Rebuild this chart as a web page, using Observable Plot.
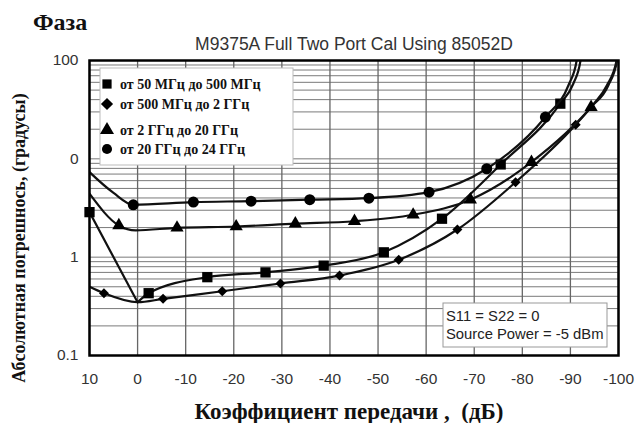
<!DOCTYPE html>
<html><head><meta charset="utf-8">
<script src="https://cdn.jsdelivr.net/npm/d3@7"></script>
<script src="https://cdn.jsdelivr.net/npm/@observablehq/plot@0.6"></script>
<style>body{margin:0;background:#fff} #chart{width:638px;height:423px}</style>
</head><body><div id="chart"></div>
<script>
// ---- Axis ticks / labels ----
const xTicks = [10, 0, -10, -20, -30, -40, -50, -60, -70, -80, -90, -100];
const yTickValues = [0.1, 1, 10, 100];
const yTickLabels = ["0.1", "1", "0", "100"];
const titleText = "M9375A Full Two Port Cal Using 85052D";
const topLabel = "Фаза";
const xLabel = "Коэффициент передачи ,  (дБ)";
const yLabel = "Абсолютная погрешнось, (градусы)";
const legendLabels = ["от 50 МГц до 500 МГц", "от 500 МГц до 2 ГГц", "от 2 ГГц до 20 ГГц", "от 20 ГГц до 24 ГГц"];
const noteLines = ["S11 = S22 = 0", "Source Power = -5 dBm"];

// ---- Series: 50 MHz – 500 MHz (square) ----
const sqLineX = [10, 0, -2.3, -14.5, -26.6, -38.7, -51.2, -63.3, -75.5, -87.9, -90.6, -92.1, -92.4];
const sqLineY = [2.87, 0.348, 0.43, 0.626, 0.70, 0.82, 1.12, 2.46, 8.77, 36.4, 58, 100, 150];
const sqMarkX = [10, -2.3, -14.5, -26.6, -38.7, -51.2, -63.3, -75.5, -87.9];
const sqMarkY = [2.87, 0.43, 0.626, 0.70, 0.82, 1.12, 2.46, 8.77, 36.4];

// ---- Series: 500 MHz – 2 GHz (diamond) ----
const diLineX = [10, 7, 0, -5.3, -17.6, -29.7, -42, -54.3, -66.5, -78.6, -91.1, -94.8, -97.6, -99.6, -99.9];
const diLineY = [0.50, 0.43, 0.348, 0.377, 0.45, 0.54, 0.65, 0.94, 1.91, 5.79, 22.2, 36, 56, 100, 150];
const diMarkX = [7, -5.3, -17.6, -29.7, -42, -54.3, -66.5, -78.6, -91.1];
const diMarkY = [0.43, 0.377, 0.45, 0.54, 0.65, 0.94, 1.91, 5.79, 22.2];

// ---- Series: 2 GHz – 20 GHz (triangle) ----
const trLineX = [10, 3.9, 0.4, -8.2, -20.5, -32.8, -45.1, -57.3, -69.2, -81.9, -94.3, -97.9, -99.7, -100.2];
const trLineY = [4.42, 2.10, 1.87, 1.99, 2.05, 2.19, 2.32, 2.7, 3.84, 9.25, 33.6, 56, 100, 150];
const trMarkX = [3.9, -8.2, -20.5, -32.8, -45.1, -57.3, -69.2, -81.9, -94.3];
const trMarkY = [2.10, 1.99, 2.05, 2.19, 2.32, 2.7, 3.84, 9.25, 33.6];

// ---- Series: 20 GHz – 24 GHz (circle) ----
const ciLineX = [10, 5, 0.9, -11.6, -23.6, -35.8, -48.1, -60.6, -72.6, -84.8, -89.6, -91.3, -91.6];
const ciLineY = [7.32, 4.5, 3.41, 3.63, 3.71, 3.84, 3.98, 4.58, 7.93, 26.6, 56, 100, 150];
const ciMarkX = [0.9, -11.6, -23.6, -35.8, -48.1, -60.6, -72.6, -84.8];
const ciMarkY = [3.41, 3.63, 3.71, 3.84, 3.98, 4.58, 7.93, 26.6];

const pts = (xs, ys) => xs.map((x, i) => ({x, y: ys[i]}));

// log grid lines
const yGrid = [];
[0.1, 1, 10].forEach(dec => { for (let k = 1; k <= 9; k++) yGrid.push(+(dec * k).toPrecision(3)); });
yGrid.push(100);

const series = [
  {line: pts(sqLineX, sqLineY), marks: pts(sqMarkX, sqMarkY), symbol: "square", r: 5.8, splitFirst: true},
  {line: pts(diLineX, diLineY), marks: pts(diMarkX, diMarkY), symbol: "diamond2", r: 4.5},
  {line: pts(trLineX, trLineY), marks: pts(trMarkX, trMarkY), symbol: "triangle", r: 4.9},
  {line: pts(ciLineX, ciLineY), marks: pts(ciMarkX, ciMarkY), symbol: "circle", r: 5.5}
];

const lineMarks = [];
series.forEach(s => {
  if (s.splitFirst) {
    lineMarks.push(Plot.line(s.line.slice(0, 2), {x: "x", y: "y", stroke: "#111", strokeWidth: 2.2, clip: true}));
    lineMarks.push(Plot.line(s.line.slice(1), {x: "x", y: "y", curve: "monotone-x", stroke: "#111", strokeWidth: 2.2, clip: true}));
  } else {
    lineMarks.push(Plot.line(s.line, {x: "x", y: "y", curve: "monotone-x", stroke: "#111", strokeWidth: 2.2, clip: true}));
  }
  lineMarks.push(Plot.dot(s.marks, {x: "x", y: "y", symbol: () => s.symbol, r: s.r, fill: "#000", stroke: "none"}));
});

const yLabelMap = new Map(yTickValues.map((v, i) => [v, yTickLabels[i]]));

const chart = Plot.plot({
  width: 638, height: 423,
  marginLeft: 89, marginRight: 20, marginTop: 60, marginBottom: 68,
  style: {fontFamily: "'Liberation Sans', Arial, sans-serif", background: "white", color: "#333"},
  x: {domain: [10, -100]},
  y: {type: "log", domain: [0.1, 100]},
  symbol: {type: "identity"},
  marks: [
    Plot.ruleY(yGrid, {stroke: "#7a7a7a", strokeWidth: 1}),
    Plot.ruleX(xTicks, {stroke: "#666", strokeWidth: 1.3}),
    Plot.axisX({ticks: xTicks, tickSize: 0, tickPadding: 17, fontSize: 15.5, label: null, tickFormat: d => String(d)}),
    Plot.axisY({ticks: yTickValues, tickSize: 0, tickPadding: 11, fontSize: 15.5, label: null, tickFormat: d => yLabelMap.get(d)}),
    ...lineMarks,
    Plot.frame({stroke: "#000", strokeWidth: 2.5})
  ]
});

const svg = d3.select(chart);
const serif = "'Liberation Serif', 'Times New Roman', serif";
const sans = "'Liberation Sans', Arial, sans-serif";
// Legend box
const lg = svg.append("g");
lg.append("rect").attr("x", 100).attr("y", 68).attr("width", 193).attr("height", 97)
  .attr("fill", "white").attr("stroke", "#bbb").attr("stroke-width", 1);
const legendSyms = [d3.symbolSquare, d3.symbolDiamond2, d3.symbolTriangle, d3.symbolCircle];
const legendSizes = [85, 95, 85, 80];
const legendY = [84, 104, 130, 149];
legendLabels.forEach((t, i) => {
  lg.append("path").attr("d", d3.symbol(legendSyms[i], legendSizes[i])())
    .attr("transform", `translate(107,${legendY[i]})`).attr("fill", "#000");
  lg.append("text").attr("x", 120).attr("y", legendY[i] + 5).attr("text-anchor", "start")
    .attr("font-family", serif).attr("font-weight", "bold")
    .attr("font-size", 14).attr("fill", "#111").text(t);
});
// Note box
const nb = svg.append("g");
nb.append("rect").attr("x", 443).attr("y", 303).attr("width", 164).attr("height", 44)
  .attr("fill", "white").attr("stroke", "#999").attr("stroke-width", 1);
noteLines.forEach((t, i) => {
  nb.append("text").attr("x", 446).attr("y", 321 + i * 18).attr("text-anchor", "start")
    .attr("font-family", sans).attr("font-size", 14.8).attr("fill", "#222").text(t);
});
// Title & labels
svg.append("text").attr("x", 354).attr("y", 50).attr("text-anchor", "middle")
  .attr("font-family", sans).attr("font-size", 17.5).attr("fill", "#333").text(titleText);
svg.append("text").attr("x", 33).attr("y", 30).attr("text-anchor", "start")
  .attr("font-family", serif).attr("font-weight", "bold").attr("font-size", 24).attr("fill", "#111").text(topLabel);
svg.append("text").attr("x", 349).attr("y", 419).attr("text-anchor", "middle")
  .attr("font-family", serif).attr("font-weight", "bold").attr("font-size", 23).attr("fill", "#111").text(xLabel);
svg.append("text").attr("transform", "translate(25,238) rotate(-90)").attr("text-anchor", "middle")
  .attr("font-family", serif).attr("font-weight", "bold").attr("font-size", 18).attr("fill", "#111").text(yLabel);

document.getElementById("chart").appendChild(chart);
</script>
</body></html>
